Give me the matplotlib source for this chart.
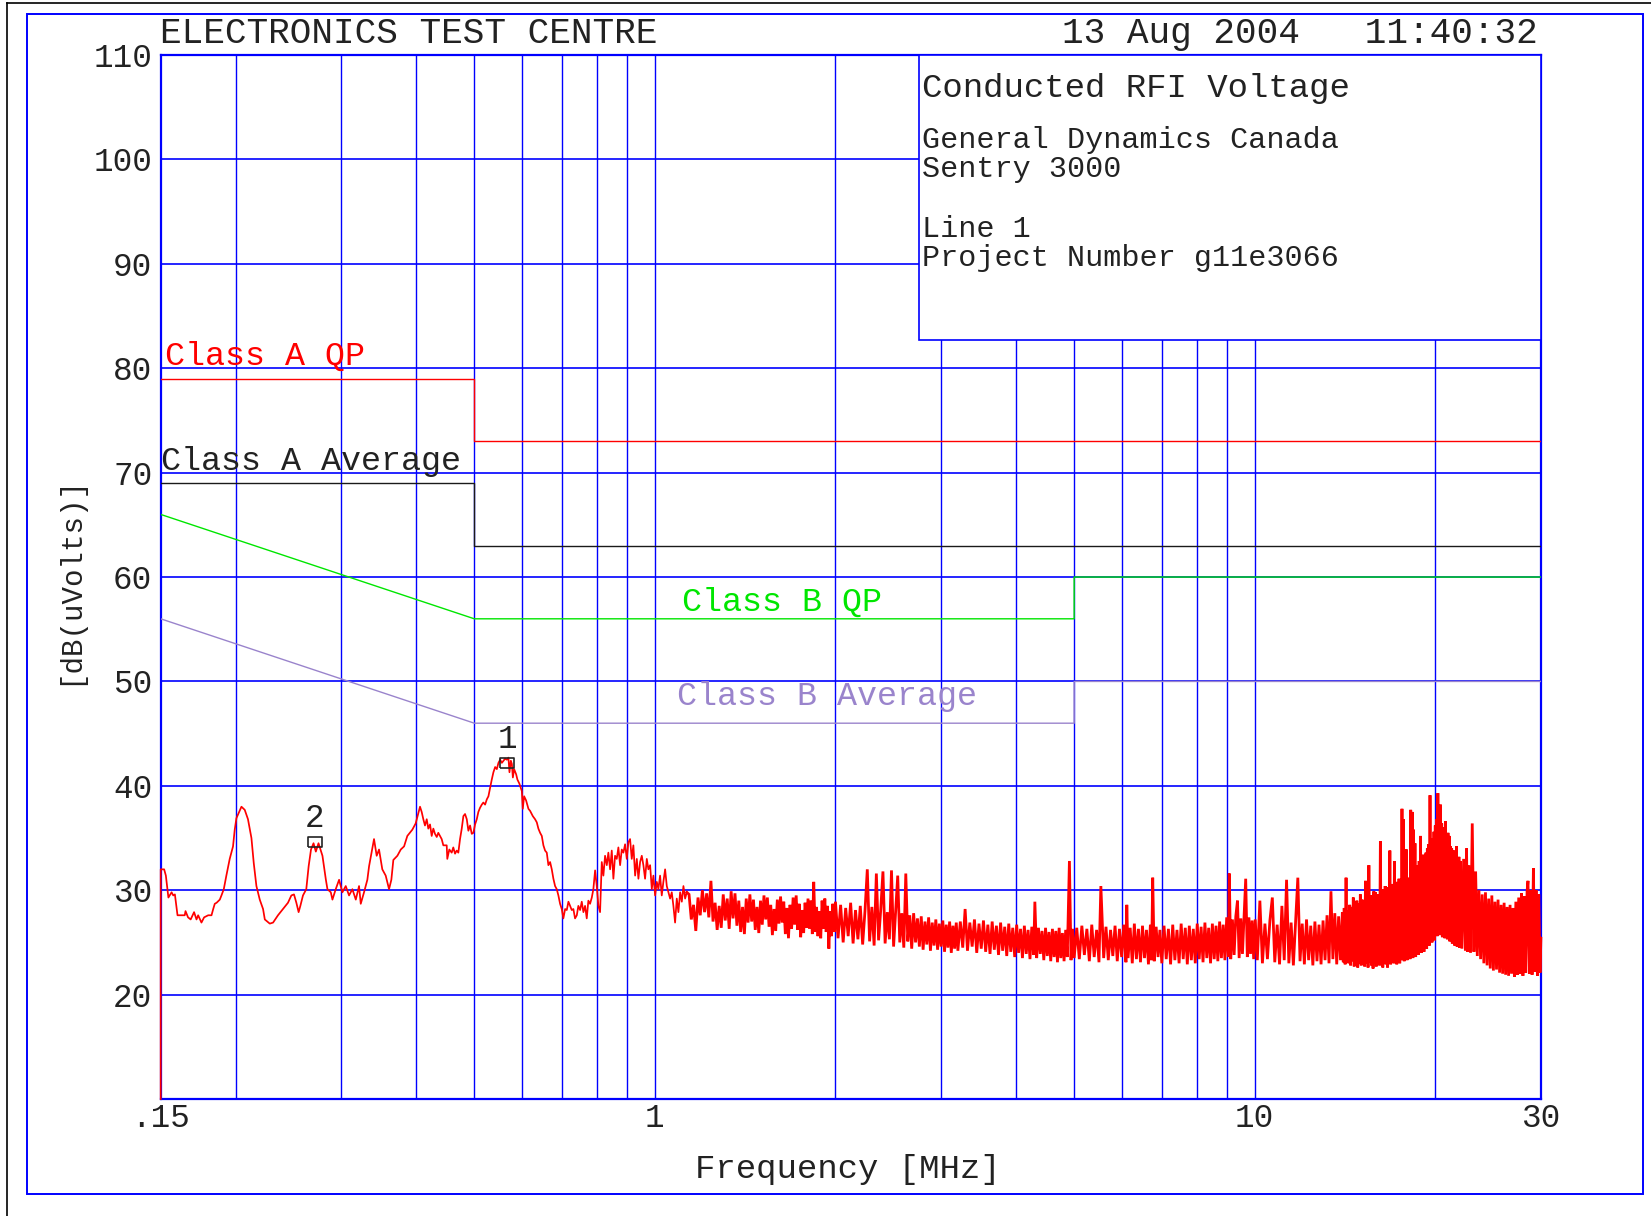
import matplotlib
matplotlib.use('Agg')
import matplotlib.pyplot as plt
from matplotlib.lines import Line2D
from matplotlib.patches import Rectangle
from matplotlib.ticker import NullLocator, FixedLocator, FixedFormatter

plt.rcParams['font.family'] = ['Liberation Mono', 'DejaVu Sans Mono']

# ---------------- data ----------------
grid_freqs = [0.2, 0.3, 0.4, 0.5, 0.6, 0.7, 0.8, 0.9, 1, 2, 3, 4, 5, 6, 7, 8, 9, 10, 20]
grid_db = [20, 30, 40, 50, 60, 70, 80, 90, 100]
xtick_vals = [0.15, 1, 10, 30]
xtick_labels = ['.15', '1', '10', '30']
ytick_vals = [20, 30, 40, 50, 60, 70, 80, 90, 100, 110]
ytick_labels = ['20', '30', '40', '50', '60', '70', '80', '90', '100', '110']

classA_qp_f = [0.15, 0.5, 0.5, 30]
classA_qp_db = [79, 79, 73, 73]
classA_avg_f = [0.15, 0.5, 0.5, 30]
classA_avg_db = [69, 69, 63, 63]
classB_qp_f = [0.15, 0.5, 5, 5, 30]
classB_qp_db = [66, 56, 56, 60, 60]
classB_avg_f = [0.15, 0.5, 5, 5, 30]
classB_avg_db = [56, 46, 46, 50, 50]

# measured trace (frequency MHz, level dB(uV))
trace_low = [
    (0.150, 10.0), (0.150, 32.0), (0.152, 32.0), (0.153, 31.4), (0.1545, 29.3), (0.1564, 29.8),
    (0.1574, 29.5), (0.1584, 29.6), (0.160, 27.6), (0.1645, 27.6), (0.1650, 28.0), (0.1666, 27.4),
    (0.1683, 27.2), (0.1705, 27.9), (0.1721, 27.2), (0.1732, 27.6), (0.1754, 26.9), (0.1772, 27.4),
    (0.1800, 27.6), (0.1823, 27.6), (0.1835, 28.2), (0.1846, 28.7), (0.1859, 28.8), (0.1882, 29.1),
    (0.1894, 29.5), (0.1911, 30.1), (0.1930, 31.4), (0.1955, 33.0), (0.1980, 34.2), (0.1993, 35.8),
    (0.2006, 36.9), (0.2045, 38.0), (0.2071, 37.7), (0.2097, 36.8), (0.2125, 35.0), (0.2144, 32.6),
    (0.2166, 30.4), (0.2194, 29.1), (0.2222, 28.2), (0.2237, 27.2), (0.2280, 26.8), (0.2309, 26.9),
    (0.2353, 27.6), (0.2399, 28.2), (0.2445, 28.8), (0.2477, 29.5), (0.2502, 29.6), (0.2525, 28.8),
    (0.2547, 27.9), (0.2564, 28.5), (0.2590, 29.5), (0.2623, 30.1), (0.2647, 32.3), (0.2671, 33.9),
    (0.2697, 34.5), (0.2721, 33.7), (0.2749, 34.5), (0.2791, 33.3), (0.2828, 31.0), (0.2845, 30.1),
    (0.2882, 29.8), (0.2900, 29.1), (0.2937, 30.1), (0.2975, 31.0), (0.3013, 29.8), (0.3052, 30.4),
    (0.3091, 29.5), (0.3131, 30.1), (0.3172, 29.1), (0.3212, 30.4), (0.3233, 28.7), (0.3274, 29.8),
    (0.3316, 31.0), (0.3338, 32.3), (0.3402, 34.9), (0.3437, 33.3), (0.3468, 33.9), (0.3512, 32.0),
    (0.3558, 31.4), (0.3604, 30.1), (0.3636, 31.0), (0.3664, 32.9), (0.3721, 33.3), (0.3770, 33.9),
    (0.3818, 34.2), (0.3866, 35.2), (0.3941, 35.8), (0.3992, 36.4), (0.4059, 38.0),
]

trace_mid = [
    (0.4085, 37.5), (0.4111, 36.8), (0.4137, 36.2), (0.4165, 36.8), (0.4190, 35.9), (0.4218, 36.3),
    (0.4245, 35.2), (0.4272, 35.9), (0.4299, 35.4), (0.4328, 35.1), (0.4354, 35.5), (0.4383, 35.2),
    (0.4411, 34.9), (0.4439, 34.3), (0.4497, 34.3), (0.4507, 33.0), (0.4542, 33.9), (0.4584, 33.6),
    (0.4612, 34.1), (0.4643, 33.5), (0.4673, 33.8), (0.4702, 33.6), (0.4733, 34.9), (0.4764, 35.9),
    (0.4794, 37.1), (0.4825, 37.3), (0.4857, 36.8), (0.4887, 35.7), (0.4919, 36.2), (0.4951, 35.4),
    (0.4982, 35.5), (0.5014, 36.3), (0.5047, 36.8), (0.5078, 37.5), (0.5111, 37.9), (0.5145, 38.2),
    (0.5176, 38.4), (0.5211, 38.2), (0.5245, 38.7), (0.5278, 39.0), (0.5312, 39.8), (0.5346, 40.6),
    (0.5380, 41.3), (0.5416, 41.8), (0.5451, 41.6), (0.5485, 42.2), (0.5521, 42.5), (0.5557, 42.2),
    (0.5591, 42.4), (0.5627, 42.6), (0.5665, 42.5), (0.5699, 42.7), (0.5722, 41.3), (0.5752, 42.4),
    (0.5775, 42.1), (0.5797, 40.8), (0.5825, 41.6), (0.5871, 41.1), (0.5899, 40.6), (0.5945, 40.2),
    (0.6000, 39.5), (0.6022, 37.8), (0.6053, 39.0), (0.6099, 38.6), (0.6154, 37.8), (0.6194, 37.6),
    (0.6258, 37.1), (0.6313, 36.8), (0.6355, 36.5), (0.6394, 35.9), (0.6436, 35.5), (0.6478, 35.2),
    (0.6518, 34.3), (0.6560, 33.8), (0.6603, 33.6), (0.6644, 32.4), (0.6688, 32.7), (0.6731, 32.0),
    (0.6773, 31.1), (0.6817, 30.4), (0.6861, 30.1), (0.6904, 29.5), (0.6949, 28.7), (0.6994, 28.2),
    (0.7037, 27.3), (0.7085, 28.2), (0.7130, 28.1), (0.7175, 28.9), (0.7221, 28.5), (0.7268, 28.1),
    (0.7313, 28.2), (0.7360, 27.3), (0.7410, 27.6), (0.7454, 28.5), (0.7504, 28.1), (0.7552, 28.9),
    (0.7600, 27.9), (0.7649, 28.5), (0.7698, 27.3), (0.7746, 29.0), (0.7797, 28.7), (0.7849, 29.3),
    (0.7896, 30.1), (0.7949, 31.9), (0.8000, 30.4), (0.8050, 28.5), (0.8102, 27.9), (0.8155, 32.7),
    (0.8206, 31.4), (0.8259, 33.3), (0.8314, 32.4), (0.8364, 33.6), (0.8420, 32.0), (0.8474, 33.8),
    (0.8527, 31.1), (0.8582, 33.3), (0.8638, 33.0), (0.8692, 34.1), (0.8750, 32.4), (0.8806, 33.9),
    (0.8861, 33.6), (0.8919, 34.4), (0.8977, 33.0), (0.9033, 34.6), (0.9091, 34.9), (0.9150, 33.0),
    (0.9207, 34.3), (0.9269, 31.4), (0.9329, 33.0), (0.9387, 31.1), (0.9448, 32.7), (0.9509, 33.3),
    (0.9568, 32.4), (0.9630, 31.1), (0.9694, 33.0), (0.9753, 32.0), (0.9818, 32.4), (0.9882, 30.1),
    (0.9943, 31.4), (1.0008, 29.5), (1.0073, 30.8), (1.0135, 30.1), (1.0201, 31.4), (1.0267, 29.5),
    (1.0331, 30.8), (1.0400, 32.0), (1.0467, 30.4), (1.0533, 29.8), (1.0601, 29.2), (1.0669, 29.8),
    (1.0736, 28.5), (1.0806, 26.9), (1.0876, 29.2), (1.0944, 27.9), (1.1017, 29.8), (1.1088, 28.9),
    (1.1158, 30.4), (1.1230, 29.2), (1.1303, 29.8),
]

trace_high = [
    (1.14, 29.6), (1.15, 27.2), (1.16, 28.6), (1.17, 26.1), (1.18, 29.3), (1.19, 27.6), (1.20, 30.0),
    (1.21, 27.9), (1.22, 29.7), (1.23, 27.4), (1.24, 30.9), (1.25, 27.0), (1.26, 28.8), (1.27, 26.2),
    (1.28, 28.5), (1.29, 26.4), (1.30, 29.6), (1.31, 27.1), (1.32, 29.2), (1.33, 26.3), (1.34, 29.9),
    (1.35, 27.3), (1.36, 29.7), (1.37, 26.6), (1.38, 29.0), (1.39, 26.0), (1.40, 28.4), (1.41, 25.8),
    (1.42, 29.2), (1.43, 26.9), (1.44, 29.6), (1.45, 27.0), (1.46, 29.1), (1.47, 26.2), (1.48, 28.4),
    (1.49, 25.9), (1.50, 29.0), (1.51, 26.7), (1.52, 29.5), (1.53, 27.2), (1.54, 29.3), (1.55, 26.5),
    (1.56, 28.6), (1.57, 25.7), (1.58, 28.2), (1.59, 26.1), (1.60, 29.1), (1.61, 26.8), (1.62, 29.4),
    (1.63, 26.9), (1.64, 28.9), (1.65, 25.8), (1.66, 28.3), (1.67, 25.4), (1.68, 28.6), (1.69, 26.3),
    (1.70, 29.3), (1.71, 26.7), (1.72, 29.5), (1.73, 26.2), (1.74, 28.7), (1.75, 25.5), (1.76, 28.1),
    (1.77, 25.9), (1.78, 28.8), (1.79, 26.4), (1.80, 29.2), (1.81, 26.3), (1.82, 29.0), (1.83, 25.8),
    (1.84, 30.8), (1.85, 26.0), (1.86, 28.4), (1.87, 25.6), (1.88, 28.0), (1.89, 25.4), (1.90, 29.0),
    (1.91, 26.3), (1.92, 29.2), (1.93, 26.0), (1.94, 28.5), (1.95, 24.4), (1.96, 28.0), (1.97, 25.6),
    (1.98, 28.7), (1.99, 26.0), (2.00, 28.9),
    (2.02, 25.4), (2.04, 28.6), (2.06, 25.0), (2.08, 28.3), (2.10, 25.6), (2.12, 28.8), (2.14, 24.9),
    (2.16, 28.1), (2.18, 25.3), (2.20, 28.5), (2.22, 24.8), (2.24, 28.0), (2.26, 32.0), (2.28, 25.1),
    (2.30, 28.4), (2.32, 24.7), (2.34, 31.6), (2.36, 25.2), (2.38, 28.2), (2.40, 31.8), (2.42, 24.9),
    (2.44, 27.9), (2.46, 25.3), (2.48, 31.9), (2.50, 24.6), (2.52, 28.0), (2.54, 31.4), (2.56, 25.0),
    (2.58, 27.8), (2.60, 24.5), (2.62, 31.6), (2.64, 25.1), (2.66, 27.6), (2.68, 24.4), (2.70, 27.8),
    (2.72, 25.0), (2.74, 27.3), (2.76, 24.6), (2.78, 27.5), (2.80, 24.3), (2.82, 27.0), (2.84, 24.8),
    (2.86, 27.4), (2.88, 24.2), (2.90, 26.9), (2.92, 24.7), (2.94, 27.2), (2.96, 24.3), (2.98, 26.8),
    (3.00, 24.6), (3.02, 27.1), (3.04, 24.1), (3.06, 26.7), (3.08, 24.5), (3.10, 27.0), (3.12, 24.0),
    (3.14, 26.6), (3.16, 24.4), (3.18, 26.9), (3.20, 24.2),
    (3.23, 27.0), (3.26, 24.5), (3.29, 28.2), (3.32, 24.2), (3.35, 26.9), (3.38, 24.6), (3.41, 27.2),
    (3.44, 24.0), (3.47, 26.8), (3.50, 24.4), (3.53, 27.1), (3.56, 24.1), (3.59, 26.7), (3.62, 23.9),
    (3.65, 27.0), (3.68, 24.3), (3.71, 26.6), (3.74, 23.8), (3.77, 26.9), (3.80, 24.2), (3.83, 26.5),
    (3.86, 23.7), (3.89, 26.8), (3.92, 24.1), (3.95, 26.4), (3.98, 23.6), (4.01, 26.7), (4.04, 24.0),
    (4.07, 26.3), (4.10, 23.5), (4.13, 26.6), (4.16, 23.9), (4.19, 26.2), (4.22, 23.4), (4.25, 26.5),
    (4.28, 23.8), (4.30, 28.9), (4.33, 23.5), (4.36, 26.4), (4.39, 23.9), (4.42, 26.1), (4.45, 23.3),
    (4.48, 26.4), (4.51, 23.7), (4.54, 26.0), (4.57, 23.2), (4.60, 26.3), (4.63, 23.6), (4.66, 26.1),
    (4.69, 23.1), (4.72, 26.4), (4.75, 23.5), (4.78, 25.9), (4.81, 23.2), (4.84, 26.2), (4.87, 23.6),
    (4.91, 32.8), (4.94, 23.3), (4.97, 26.3), (5.00, 23.5),
    (5.05, 26.4), (5.10, 23.4), (5.15, 26.6), (5.20, 23.8), (5.25, 26.3), (5.30, 23.2), (5.35, 26.7),
    (5.40, 23.6), (5.45, 26.2), (5.50, 23.1), (5.54, 30.4), (5.60, 23.5), (5.65, 26.5), (5.70, 23.3),
    (5.75, 26.2), (5.80, 23.7), (5.85, 26.6), (5.90, 23.2), (5.95, 26.3), (6.00, 23.6), (6.05, 26.7),
    (6.10, 23.1), (6.12, 28.6), (6.15, 23.5), (6.20, 26.4), (6.25, 23.0), (6.30, 26.8), (6.35, 23.4),
    (6.40, 26.3), (6.45, 23.1), (6.50, 26.6), (6.55, 23.5), (6.60, 26.2), (6.65, 22.9), (6.70, 26.7),
    (6.73, 23.3), (6.76, 31.2), (6.80, 23.2), (6.85, 26.5), (6.90, 23.6), (6.95, 26.2), (7.00, 23.0),
    (7.06, 26.6), (7.12, 23.4), (7.18, 26.3), (7.24, 22.9), (7.30, 26.7), (7.36, 23.3), (7.42, 26.2),
    (7.48, 23.0), (7.54, 26.8), (7.60, 23.4), (7.66, 26.4), (7.72, 22.9), (7.78, 26.6), (7.84, 23.3),
    (7.90, 26.3), (7.96, 23.0), (8.02, 26.8), (8.08, 23.4), (8.14, 26.5), (8.20, 23.1), (8.26, 26.9),
    (8.32, 23.5), (8.38, 26.4), (8.44, 23.0), (8.50, 26.8), (8.56, 23.4), (8.62, 26.6), (8.68, 23.2),
    (8.74, 27.0), (8.80, 23.5), (8.86, 26.7), (8.92, 23.3), (8.98, 27.4), (9.04, 23.6), (9.07, 31.6),
    (9.12, 23.4), (9.18, 27.2), (9.24, 23.8), (9.30, 27.5), (9.36, 29.0), (9.42, 23.5), (9.48, 27.3),
    (9.54, 23.9), (9.60, 27.6), (9.66, 31.1), (9.72, 23.6), (9.78, 27.4), (9.84, 23.9), (9.90, 27.1),
    (9.96, 23.4), (10.02, 27.2),
    (10.1, 23.3), (10.2, 29.0), (10.3, 23.0), (10.4, 26.8), (10.5, 23.4), (10.6, 27.1), (10.7, 29.3),
    (10.8, 23.1), (10.9, 26.7), (11.0, 22.9), (11.1, 28.5), (11.2, 23.3), (11.3, 31.0), (11.4, 23.0),
    (11.5, 26.9), (11.6, 22.8), (11.7, 27.1), (11.8, 31.2), (11.9, 23.2), (12.0, 26.8), (12.1, 22.9),
    (12.2, 27.2), (12.3, 23.3), (12.4, 26.6), (12.5, 22.8), (12.6, 27.0), (12.7, 23.2), (12.8, 26.7),
    (12.9, 22.9), (13.0, 27.1), (13.1, 23.3), (13.2, 27.6), (13.3, 23.0), (13.4, 29.9), (13.5, 23.4),
    (13.6, 27.8), (13.7, 22.9), (13.8, 27.5), (13.9, 23.3),
    (14.00, 27.9), (14.05, 23.1), (14.10, 28.3), (14.15, 22.9), (14.20, 31.2), (14.25, 23.3),
    (14.30, 28.1), (14.35, 23.0), (14.40, 28.6), (14.45, 22.8), (14.50, 28.4), (14.55, 23.2),
    (14.60, 29.3), (14.65, 22.7), (14.70, 28.8), (14.75, 23.1), (14.80, 29.0), (14.85, 22.6),
    (14.90, 28.7), (14.95, 23.0), (15.00, 29.6), (15.05, 22.8), (15.10, 29.1), (15.15, 23.2),
    (15.20, 28.9), (15.25, 22.7), (15.30, 30.9), (15.35, 23.0), (15.40, 29.2), (15.45, 22.6),
    (15.50, 32.4), (15.55, 23.1), (15.60, 29.5), (15.65, 22.8), (15.70, 29.4), (15.75, 22.5),
    (15.80, 29.9), (15.85, 23.0), (15.90, 29.8), (15.95, 22.7), (16.00, 29.6), (16.05, 23.1),
    (16.10, 29.2), (16.15, 22.8), (16.20, 34.7), (16.25, 23.0), (16.30, 30.1), (16.35, 22.6),
    (16.40, 29.9), (16.45, 23.2), (16.50, 30.4), (16.55, 22.9), (16.60, 30.3), (16.65, 22.6),
    (16.70, 30.0), (16.75, 23.1), (16.80, 33.8), (16.85, 22.9), (16.90, 30.5), (16.95, 23.3),
    (17.00, 30.6), (17.05, 23.0), (17.10, 32.8), (17.15, 23.3), (17.20, 30.8), (17.25, 22.9),
    (17.30, 30.2), (17.35, 23.4), (17.40, 31.1), (17.45, 23.0), (17.50, 31.0), (17.55, 23.3),
    (17.60, 37.8), (17.65, 23.5), (17.70, 36.8), (17.75, 23.2), (17.80, 31.4), (17.85, 23.6),
    (17.90, 33.9), (17.95, 23.3), (18.00, 31.0), (18.05, 23.6), (18.10, 31.2), (18.15, 23.4),
    (18.20, 37.7), (18.25, 23.8), (18.30, 37.5), (18.35, 23.5), (18.40, 35.8), (18.45, 23.9),
    (18.50, 34.5), (18.55, 23.6), (18.60, 32.0), (18.65, 24.0), (18.70, 32.4), (18.75, 23.8),
    (18.80, 32.8), (18.85, 24.2), (18.90, 35.2), (18.95, 24.0), (19.00, 33.0), (19.05, 24.4),
    (19.10, 33.4), (19.15, 24.1), (19.20, 32.6), (19.25, 24.6), (19.30, 33.6), (19.35, 24.4),
    (19.40, 34.0), (19.45, 24.9), (19.50, 34.4), (19.55, 24.7), (19.60, 39.1), (19.65, 25.1),
    (19.70, 34.8), (19.75, 25.0), (19.80, 35.0), (19.85, 25.4), (19.90, 35.6), (19.95, 25.2),
    (20.00, 36.2), (20.05, 25.8), (20.10, 36.8), (20.15, 25.6), (20.20, 39.3), (20.25, 26.0),
    (20.30, 37.0), (20.35, 25.7), (20.40, 38.2), (20.45, 25.9), (20.50, 36.4), (20.55, 25.5),
    (20.60, 36.0), (20.65, 25.8), (20.70, 35.6), (20.75, 25.4), (20.80, 36.6), (20.85, 25.6),
    (20.90, 35.0), (20.95, 25.3), (21.00, 35.5), (21.05, 25.5), (21.10, 35.2), (21.15, 25.1),
    (21.20, 34.2), (21.25, 25.3), (21.30, 34.0), (21.35, 24.9), (21.40, 33.6), (21.45, 25.0),
    (21.50, 33.8), (21.55, 24.7), (21.60, 33.4), (21.65, 24.9), (21.70, 34.2), (21.75, 24.6),
    (21.80, 33.0), (21.85, 24.8), (21.90, 33.2), (21.95, 24.5), (22.00, 32.8),
    (22.15, 24.4), (22.30, 33.0), (22.45, 24.2), (22.55, 34.0), (22.65, 24.1), (22.75, 32.4),
    (22.90, 24.0), (23.05, 36.4), (23.20, 24.1), (23.35, 31.8), (23.50, 23.7), (23.65, 30.0),
    (23.80, 23.4), (23.95, 29.6), (24.10, 23.0), (24.25, 29.8), (24.40, 22.8), (24.55, 29.2),
    (24.70, 22.5), (24.85, 29.5), (25.00, 22.3), (25.15, 28.9), (25.30, 22.4), (25.45, 29.1),
    (25.60, 22.1), (25.75, 28.6), (25.90, 22.0), (26.05, 28.8), (26.20, 21.9), (26.35, 28.4),
    (26.50, 21.8), (26.65, 28.6), (26.80, 22.0), (26.95, 28.3), (27.10, 21.7), (27.25, 28.9),
    (27.40, 21.9), (27.55, 29.3), (27.70, 22.0), (27.85, 29.7), (28.00, 21.8), (28.15, 29.4),
    (28.30, 22.1), (28.45, 29.9), (28.55, 30.9), (28.70, 22.0), (28.85, 30.0), (29.00, 21.9),
    (29.15, 32.1), (29.30, 22.2), (29.45, 30.0), (29.60, 21.8), (29.75, 29.6), (29.90, 22.1),
    (30.00, 25.4),
]

marker_f = [0.5676, 0.271]
marker_db = [42.2, 34.6]
marker_labels = ['1', '2']

# ---------------- figure ----------------
BLUE = '#0000ff'
RED = '#ff0000'
GREEN = '#00e600'
PURPLE = '#9a84cc'
BLACK = '#1a1a1a'
TXT = '#222222'

W, H = 1651, 1216
fig = plt.figure(figsize=(W / 100, H / 100), dpi=100)
fig.patch.set_facecolor('white')

def fx(px):
    return px / W

def fy(py):
    return 1 - py / H

ax = fig.add_axes([fx(160.7), fy(1099), (1540.9 - 160.7) / W, (1099 - 55.1) / H])
ax.set_xscale('log')
ax.set_xlim(0.15, 30)
ax.set_ylim(10, 110)
ax.xaxis.set_minor_locator(NullLocator())
ax.xaxis.set_major_locator(FixedLocator(xtick_vals))
ax.xaxis.set_major_formatter(FixedFormatter(xtick_labels))
ax.yaxis.set_major_locator(FixedLocator(ytick_vals))
ax.yaxis.set_major_formatter(FixedFormatter(ytick_labels))
ax.tick_params(axis='both', length=0, labelsize=23.5, colors=TXT)
ax.tick_params(axis='y', pad=6)
ax.tick_params(axis='x', pad=3)
for s in ax.spines.values():
    s.set_color(BLUE)
    s.set_linewidth(1.6)

for f in grid_freqs:
    ax.axvline(f, color=BLUE, lw=1.0, zorder=1)
for d in grid_db:
    ax.axhline(d, color=BLUE, lw=1.2, zorder=1)

# info box
ax.add_patch(Rectangle((0.5496, 0.727), 0.4504, 0.273, transform=ax.transAxes,
                       facecolor='white', edgecolor=BLUE, lw=1.2, zorder=3, clip_on=False))

# limit lines
ax.plot(classA_qp_f, classA_qp_db, color=RED, lw=1.0, zorder=4)
ax.plot(classA_avg_f, classA_avg_db, color=BLACK, lw=1.0, zorder=4)
ax.plot(classB_qp_f, classB_qp_db, color=GREEN, lw=1.0, zorder=4)
ax.plot(classB_avg_f, classB_avg_db, color=PURPLE, lw=1.0, zorder=4)

ax.text(0.1525, 80.3, 'Class A QP', color=RED, fontsize=24, ha='left', va='baseline', zorder=6)
ax.text(0.1504, 70.3, 'Class A Average', color=TXT, fontsize=24, ha='left', va='baseline', zorder=6)
ax.text(1.111, 56.8, 'Class B QP', color=GREEN, fontsize=24, ha='left', va='baseline', zorder=6)
ax.text(1.089, 47.7, 'Class B Average', color=PURPLE, fontsize=24, ha='left', va='baseline', zorder=6)

# trace: thin line at low frequency, dense band above ~1.1 MHz
lowmid = trace_low + trace_mid
ax.plot([p[0] for p in lowmid], [p[1] for p in lowmid], color=RED, lw=1.25, zorder=5, clip_on=False)
high = trace_mid[-1:] + trace_high
ax.plot([p[0] for p in high], [p[1] for p in high], color=RED, lw=2.0, zorder=5, clip_on=False,
        solid_joinstyle='miter')

# markers
box_marker = [(-1.45, -1), (1.45, -1), (1.45, 1), (-1.45, 1), (-1.45, -1)]
for f, d, lab in zip(marker_f, marker_db, marker_labels):
    ax.plot([f], [d], marker=box_marker, markersize=10.5, markerfacecolor='none',
            markeredgecolor=TXT, mew=1.2, zorder=7, linestyle='none')
    ax.annotate(lab, (f, d), xytext=(0, 17), textcoords='offset points',
                ha='center', va='center', fontsize=23.5, color=TXT, zorder=7)

# texts
fig.text(fx(160), fy(43.3), 'ELECTRONICS TEST CENTRE', fontsize=26, ha='left', va='baseline', color=TXT)
fig.text(fx(1538), fy(43.3), '13 Aug 2004   11:40:32', fontsize=26, ha='right', va='baseline', color=TXT)

fig.text(fx(921.7), fy(96.7), 'Conducted RFI Voltage', fontsize=24.5, ha='left', va='baseline', color=TXT)
fig.text(fx(921.7), fy(148.3), 'General Dynamics Canada', fontsize=21.7, ha='left', va='baseline', color=TXT)
fig.text(fx(921.7), fy(176.7), 'Sentry 3000', fontsize=21.7, ha='left', va='baseline', color=TXT)
fig.text(fx(921.7), fy(236.7), 'Line 1', fontsize=21.7, ha='left', va='baseline', color=TXT)
fig.text(fx(921.7), fy(266), 'Project Number g11e3066', fontsize=21.7, ha='left', va='baseline', color=TXT)

fig.text(fx(847.6), fy(1178), 'Frequency [MHz]', fontsize=24.5, ha='center', va='baseline', color=TXT)
fig.text(fx(69), fy(580), '[dB(uVolts)]', fontsize=21, rotation=90, ha='center', va='center', color=TXT)

# outer frames
fig.add_artist(Rectangle((fx(27.4), fy(1194)), fx(1642.6) - fx(27.4), fy(14) - fy(1194),
                         transform=fig.transFigure, fill=False, edgecolor=BLUE, lw=1.4))
fig.add_artist(Line2D([fx(6.5), fx(6.5)], [fy(3), 0], transform=fig.transFigure, color='black', lw=1.2))
fig.add_artist(Line2D([fx(6.5), 1], [fy(3), fy(3)], transform=fig.transFigure, color='black', lw=1.2))

fig.savefig('out.png', dpi=100, facecolor='white')
